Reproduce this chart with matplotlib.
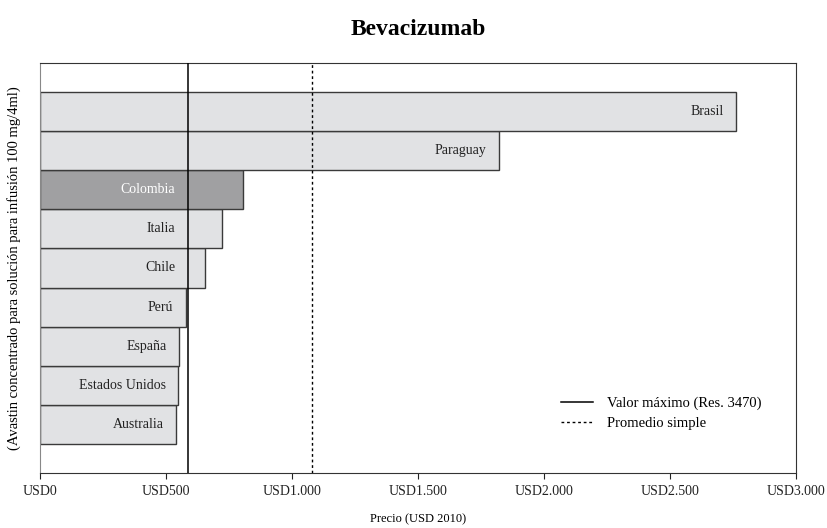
import numpy as np
import matplotlib.pyplot as plt
from matplotlib.ticker import FuncFormatter

plt.rcParams['font.family'] = ['Liberation Serif', 'DejaVu Serif']

# Datos (USD 2010)
paises = ["Australia", "Estados Unidos", "España", "Perú", "Chile",
          "Italia", "Colombia", "Paraguay", "Brasil"]
precios = [540, 548, 552, 579, 655, 722, 806, 1821, 2762]
valor_maximo = 587
promedio = 1078
xticks = [0, 500, 1000, 1500, 2000, 2500, 3000]

fig = plt.figure(figsize=(8.27, 5.28), dpi=100)
ax = fig.add_axes([0.0484, 0.1042, 0.9141, 0.7765])

y = np.arange(len(paises))
colores = ['#a0a0a2' if p == "Colombia" else '#e1e2e4' for p in paises]
ax.barh(y, precios, height=1.0, color=colores, edgecolor='#3a3a3a', linewidth=1.0, zorder=2)

# Etiquetas dentro de las barras (a la izquierda de la línea de valor máximo si la barra la pasa)
for yi, p, v in zip(y, paises, precios):
    xt = v if (v > 1500 or v < valor_maximo) else valor_maximo
    ax.text(xt - 50, yi, p, ha='right', va='center', fontsize=10,
            color='white' if p == "Colombia" else '#222222', zorder=4)

ax.axvline(valor_maximo, color='black', lw=1.1, zorder=3, label='Valor máximo (Res. 3470)')
ax.axvline(promedio, color='black', lw=1.0, ls=(0, (2, 2)), zorder=3, label='Promedio simple')

ax.set_xlim(0, 3000)
ax.set_ylim(-1.25, 9.25)
ax.set_yticks([])
ax.set_xticks(xticks)
ax.xaxis.set_major_formatter(FuncFormatter(lambda v, pos: "USD" + f"{int(v):,}".replace(",", ".")))
ax.tick_params(axis='x', direction='out', length=4, labelsize=10, pad=5, colors='#222222')
ax.spines['left'].set_color('#888888')
for s in ['top', 'right', 'bottom']:
    ax.spines[s].set_color('#333333')

ax.set_xlabel("Precio (USD 2010)", fontsize=9, labelpad=11)
ax.set_ylabel("(Avastin concentrado para solución para infusión 100 mg/4ml)", fontsize=10.5, labelpad=14)
ax.set_title("Bevacizumab", fontsize=17, fontweight='bold', pad=20)

ax.legend(loc='lower right', bbox_to_anchor=(0.972, 0.072), frameon=False, fontsize=10.5,
          handlelength=2.2, handletextpad=1.0, labelspacing=0.5)

fig.savefig("out.png", dpi=100)
